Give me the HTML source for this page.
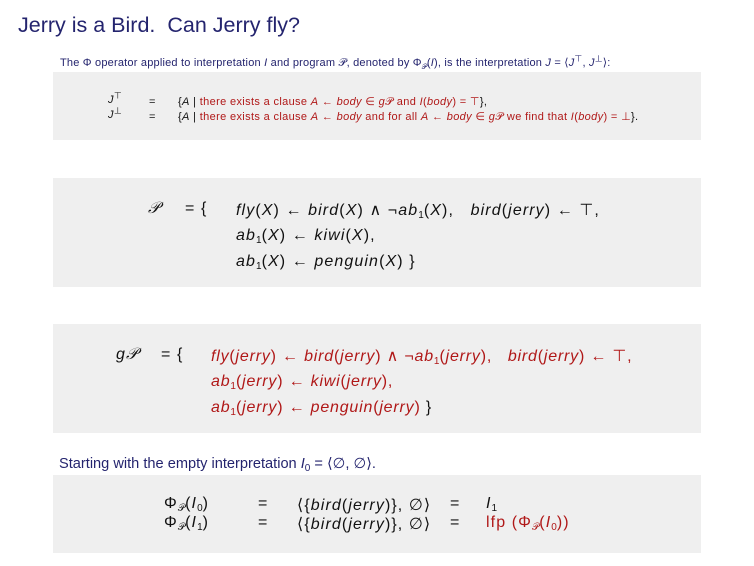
<!DOCTYPE html>
<html><head><meta charset="utf-8"><style>
html,body{margin:0;padding:0;background:#fff;}
body{width:754px;height:566px;position:relative;overflow:hidden;font-family:"Liberation Sans",sans-serif;color:#111;}
.a{position:absolute;white-space:nowrap;}
.box{position:absolute;left:53px;width:648px;background:#efefef;}
.r{color:#b01818;}
.b{color:#24246e;}
i{font-style:italic;}
.s{font-size:11px;letter-spacing:0.35px;}
.m{font-size:16px;letter-spacing:1.1px;}
.g{letter-spacing:0.8px;}
sub{font-size:10px;vertical-align:-3px;line-height:0;letter-spacing:0;}
sup{font-size:9px;line-height:0;}
</style></head><body>
<div class="a b" style="left:18px;top:13px;font-size:21.5px;">Jerry is a Bird.&nbsp; Can Jerry fly?</div>
<div class="a s b" style="left:60px;top:56px;letter-spacing:0.2px;">The Φ operator applied to interpretation <i>I</i> and program 𝒫, denoted by Φ<sub style="font-size:7px">𝒫</sub>(<i>I</i>), is the interpretation <i>J</i> = ⟨<i>J</i><sup>⊤</sup>, <i>J</i><sup>⊥</sup>⟩:</div>

<div class="box" style="top:72px;height:68px;"></div>
<div class="a s" style="left:108px;top:94px;"><i>J</i><sup>⊤</sup></div>
<div class="a s" style="left:108px;top:109px;"><i>J</i><sup>⊥</sup></div>
<div class="a s" style="left:149px;top:96px;">=</div>
<div class="a s" style="left:149px;top:111px;">=</div>
<div class="a s" style="left:178px;top:95px;">{<i>A</i> | <span class="r">there exists a clause <i>A</i> ← <i>body</i> ∈ <i>g</i>𝒫 and <i>I</i>(<i>body</i>) = ⊤</span>},</div>
<div class="a s" style="left:178px;top:110px;">{<i>A</i> | <span class="r">there exists a clause <i>A</i> ← <i>body</i> and for all <i>A</i> ← <i>body</i> ∈ <i>g</i>𝒫 we find that <i>I</i>(<i>body</i>) = ⊥</span>}.</div>

<div class="box" style="top:178px;height:109px;"></div>
<div class="a m" style="left:148px;top:200px;"><i>𝒫</i></div>
<div class="a m" style="left:185px;top:200px;">= {</div>
<div class="a m" style="left:236px;top:200px;"><i>fly</i>(<i>X</i>) ← <i>bird</i>(<i>X</i>) ∧ ¬<i>ab</i><sub>1</sub>(<i>X</i>),&nbsp;&nbsp;&nbsp;<i>bird</i>(<i>jerry</i>) ← ⊤,</div>
<div class="a m" style="left:236px;top:227px;"><i>ab</i><sub>1</sub>(<i>X</i>) ← <i>kiwi</i>(<i>X</i>),</div>
<div class="a m" style="left:236px;top:253px;"><i>ab</i><sub>1</sub>(<i>X</i>) ← <i>penguin</i>(<i>X</i>) }</div>

<div class="box" style="top:324px;height:109px;"></div>
<div class="a m" style="left:116px;top:346px;"><i>g𝒫</i></div>
<div class="a m" style="left:161px;top:346px;">= {</div>
<div class="a m g r" style="left:211px;top:346px;"><i>fly</i>(<i>jerry</i>) ← <i>bird</i>(<i>jerry</i>) ∧ ¬<i>ab</i><sub>1</sub>(<i>jerry</i>),&nbsp;&nbsp;&nbsp;<i>bird</i>(<i>jerry</i>) ← ⊤,</div>
<div class="a m g r" style="left:211px;top:373px;"><i>ab</i><sub>1</sub>(<i>jerry</i>) ← <i>kiwi</i>(<i>jerry</i>),</div>
<div class="a m g r" style="left:211px;top:399px;"><i>ab</i><sub>1</sub>(<i>jerry</i>) ← <i>penguin</i>(<i>jerry</i>) <span style="color:#111">}</span></div>

<div class="a b" style="left:59px;top:455px;font-size:14.6px;">Starting with the empty interpretation <i>I</i><sub>0</sub> = ⟨∅, ∅⟩.</div>
<div class="box" style="top:475px;height:78px;"></div>
<div class="a m" style="left:164px;top:495px;">Φ<sub>𝒫</sub>(<i>I</i><sub>0</sub>)</div>
<div class="a m" style="left:164px;top:514px;">Φ<sub>𝒫</sub>(<i>I</i><sub>1</sub>)</div>
<div class="a m" style="left:258px;top:495px;">=</div>
<div class="a m" style="left:258px;top:514px;">=</div>
<div class="a m" style="left:297px;top:495px;">⟨{<i>bird</i>(<i>jerry</i>)}, ∅⟩</div>
<div class="a m" style="left:297px;top:514px;">⟨{<i>bird</i>(<i>jerry</i>)}, ∅⟩</div>
<div class="a m" style="left:450px;top:495px;">=</div>
<div class="a m" style="left:450px;top:514px;">=</div>
<div class="a m" style="left:486px;top:495px;"><i>I</i><sub>1</sub></div>
<div class="a m r" style="left:486px;top:514px;">lfp (Φ<sub>𝒫</sub>(<i>I</i><sub>0</sub>))</div>
</body></html>
